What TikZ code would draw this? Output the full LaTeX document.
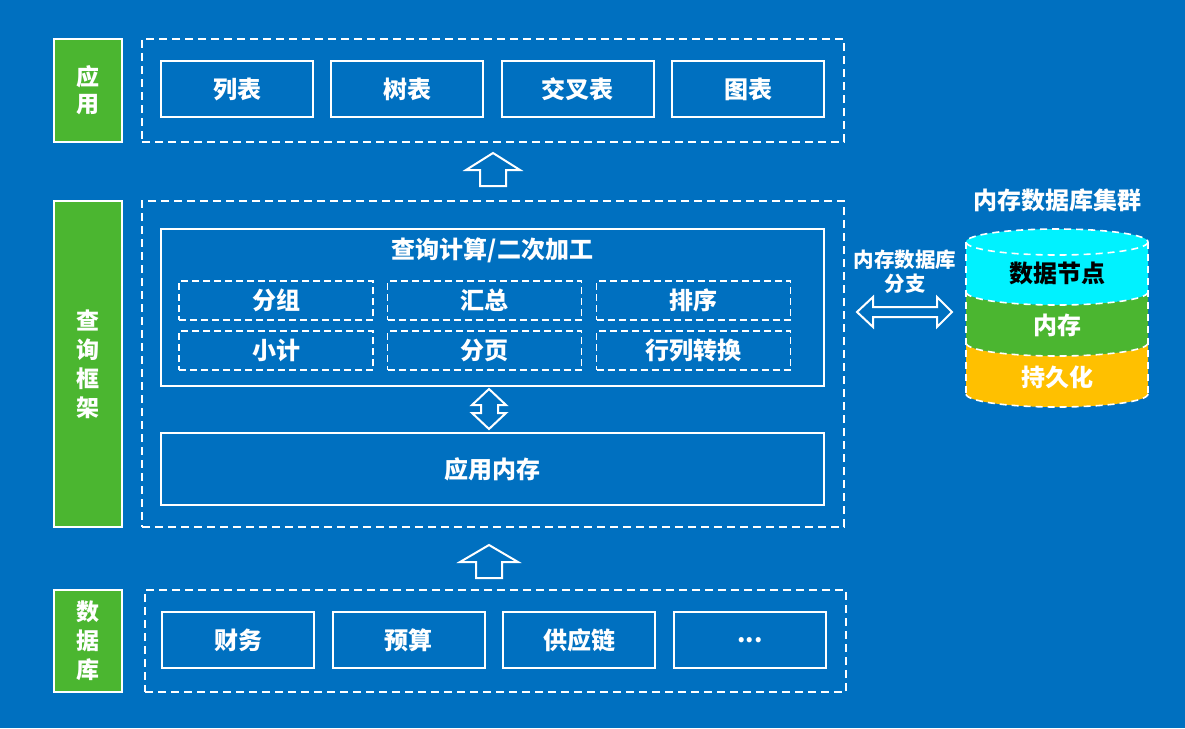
\documentclass[tikz,border=0pt]{standalone}
\usepackage{fontspec}
\setmainfont{Noto Sans CJK SC}
\usetikzlibrary{positioning}

\definecolor{bgblue}{HTML}{0070C0}
\definecolor{lblgreen}{HTML}{4BB630}
\definecolor{nodecyan}{HTML}{00F2FF}
\definecolor{persistyellow}{HTML}{FFC000}

\begin{document}
\begin{tikzpicture}[x=1pt,y=-1pt,
  every node/.style={text=white,font=\bfseries\fontsize{24}{28}\selectfont},
  layer/.style={fill=lblgreen,draw=white,line width=2pt,minimum width=68pt,inner sep=0pt,align=center},
  frame/.style={draw=white,line width=1.6pt,dash pattern=on 8pt off 5pt,inner sep=0pt},
  item/.style={draw=white,line width=2pt,minimum width=152pt,minimum height=56pt,inner sep=0pt},
  subitem/.style={draw=white,line width=1.6pt,dash pattern=on 7pt off 4pt,minimum width=194pt,minimum height=39pt,inner sep=0pt},
  hollow/.style={draw=white,line width=2pt,line join=miter},
  cyldash/.style={draw=white,line width=1.6pt,dash pattern=on 7pt off 5pt}
]
  % background
  \fill[bgblue] (0,0) rectangle (1185,728);

  % layer labels
  \node[layer,minimum height=103pt,font=\bfseries\fontsize{23}{27}\selectfont] (lapp) at (88,90.5) {应\\用};
  \node[layer,minimum height=326pt,font=\bfseries\fontsize{23}{29}\selectfont] (lquery) at (88,364) {查\\询\\框\\架};
  \node[layer,minimum height=102pt,font=\bfseries\fontsize{23}{29}\selectfont] (ldb) at (88,641) {数\\据\\库};

  % application layer
  \node[frame,minimum width=702pt,minimum height=103pt] (appframe) at (493,90.5) {};
  \node[item] (list) at (237,89) {列表};
  \node[item] (tree) at (407,89) {树表};
  \node[item] (cross) at (577.5,89) {交叉表};
  \node[item] (chart) at (748,89) {图表};

  % query framework
  \node[frame,minimum width=702pt,minimum height=326pt] (queryframe) at (493,364) {};
  \node[item,minimum width=663pt,minimum height=157pt] (calc) at (492.5,307.5) {};
  \node (calctitle) at (492.5,250) {查询计算/二次加工};
  \node[subitem] (group) at (276,300.5) {分组};
  \node[subitem] (sum) at (484.5,300.5) {汇总};
  \node[subitem] (sort) at (693.5,300.5) {排序};
  \node[subitem] (subtotal) at (276,350.5) {小计};
  \node[subitem] (paging) at (484.5,350.5) {分页};
  \node[subitem] (pivot) at (693.5,350.5) {行列转换};
  \node[item,minimum width=663pt,minimum height=72pt] (appmem) at (492.5,469) {应用内存};

  % database layer
  \node[frame,minimum width=701pt,minimum height=102pt] (dbframe) at (495.5,641) {};
  \node[item] (finance) at (238,640) {财务};
  \node[item] (budget) at (408.5,640) {预算};
  \node[item] (supply) at (579,640) {供应链};
  \node[item] (more) at (750,640) {\raisebox{-5pt}{...}};

  % hollow arrows
  \draw[hollow] (493,153) -- (520,170) -- (506,170) -- (506,186) -- (480,186)
    -- (480,170) -- (466,170) -- cycle;
  \draw[hollow] (489,545) -- (518,562) -- (502,562) -- (502,578) -- (476,578)
    -- (476,562) -- (460,562) -- cycle;
  \draw[hollow] (489,389) -- (506,405) -- (498,405) -- (498,413) -- (506,413)
    -- (489,429) -- (472,413) -- (481,413) -- (481,405) -- (472,405) -- cycle;
  \draw[hollow] (857,312) -- (873,297) -- (873,307) -- (937,307) -- (937,297)
    -- (952,312) -- (937,327) -- (937,317) -- (873,317) -- (873,327) -- cycle;
  \node[font=\bfseries\fontsize{20.5}{24}\selectfont,align=center] (branch) at (905,272) {内存数据库\\分支};

  % in-memory database cluster
  \node (clustertitle) at (1057,200) {内存数据库集群};
  \fill[nodecyan] (966,242) arc[start angle=180,end angle=360,x radius=91,y radius=13]
    -- (1148,292) arc[start angle=0,end angle=180,x radius=91,y radius=13] -- cycle;
  \fill[lblgreen] (1148,292) arc[start angle=0,end angle=180,x radius=91,y radius=13]
    -- (966,343) arc[start angle=180,end angle=0,x radius=91,y radius=13] -- cycle;
  \fill[persistyellow] (1148,343) arc[start angle=0,end angle=180,x radius=91,y radius=13]
    -- (966,394) arc[start angle=180,end angle=0,x radius=91,y radius=13] -- cycle;
  \draw[cyldash] (1057,242) ellipse[x radius=91,y radius=13];
  \foreach \yy in {292,343,394}
    \draw[cyldash] (1148,\yy) arc[start angle=0,end angle=180,x radius=91,y radius=13];
  \draw[cyldash] (966,242) -- (966,394);
  \draw[cyldash] (1148,242) -- (1148,394);
  \node[text=black] (datanode) at (1057,273) {数据节点};
  \node (memory) at (1057,325) {内存};
  \node (persist) at (1057,377) {持久化};
\end{tikzpicture}
\end{document}
